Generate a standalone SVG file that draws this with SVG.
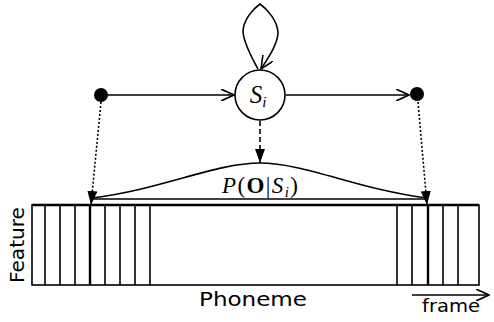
<svg xmlns="http://www.w3.org/2000/svg" width="494" height="322" viewBox="0 0 494 322">
<style>
.ln{stroke:#000;stroke-width:1.6;fill:none}
.tk{stroke:#000;stroke-width:2.4;fill:none}
.dot{stroke:#000;stroke-width:1.6;fill:none;stroke-dasharray:2 2}
.serif{font-family:"Liberation Serif","Times New Roman",serif}
.sans{font-family:"DejaVu Sans","Liberation Sans",sans-serif}
</style>
<defs>
<marker id="open" viewBox="0 0 14 12" refX="13" refY="6" markerWidth="14" markerHeight="12" markerUnits="userSpaceOnUse" orient="auto">
<path d="M0,0 L13,6 L0,12" fill="none" stroke="#000" stroke-width="1.6"/>
</marker>
<marker id="tri" viewBox="0 0 14 10" refX="14" refY="5" markerWidth="14" markerHeight="10" markerUnits="userSpaceOnUse" orient="auto">
<path d="M0,0 L14,5 L0,10 Z" fill="#000"/>
</marker>
</defs>

<g id="connectors">
<path class="ln" d="M258,69 C252,58 244,44 243,32 C243,20 253,9 260,4 C267,9 277,20 278,32 C278,44 268,58 261,69" marker-end="url(#open)"/>
<line class="ln" x1="107" y1="95" x2="234" y2="95" marker-end="url(#open)"/>
<line class="ln" x1="286" y1="95" x2="409" y2="95" marker-end="url(#open)"/>
<line class="dot" x1="101" y1="102" x2="91" y2="205" marker-end="url(#tri)"/>
<line class="dot" x1="418" y1="102" x2="427" y2="205" marker-end="url(#tri)"/>
<line class="ln" x1="260" y1="121" x2="260" y2="163" stroke-dasharray="5 3" marker-end="url(#tri)"/>
<line class="ln" x1="412" y1="295" x2="489" y2="295" marker-end="url(#open)"/>
</g>

<g id="start">
<circle cx="101" cy="95" r="7" fill="#000"/>
</g>
<g id="end">
<circle cx="417" cy="94" r="7" fill="#000"/>
</g>
<g id="state">
<circle cx="260" cy="95" r="25" fill="#fff" stroke="#000" stroke-width="1.6"/>
<text class="serif" x="258" y="103" font-size="25" font-style="italic" text-anchor="middle">S<tspan font-size="15" dy="4">i</tspan></text>
</g>

<g id="likelihood">
<path class="ln" d="M92,198 C160,190 215,163 260,163 C305,163 360,190 427,198"/>
<line class="ln" x1="92" y1="199" x2="427" y2="199"/>
<text class="serif" x="222" y="193" font-size="23" textLength="76" lengthAdjust="spacing"><tspan font-style="italic">P</tspan>(<tspan font-weight="bold">O</tspan>|<tspan font-style="italic">S</tspan><tspan font-style="italic" font-size="15" dy="4">i</tspan><tspan dy="-4">)</tspan></text>
</g>

<g id="features">
<rect x="32" y="205" width="447" height="80" fill="#fff" stroke="#000" stroke-width="1.6"/>
<line class="tk" x1="32" y1="205" x2="479" y2="205"/>
<path class="ln" d="M45,205V285M60,205V285M75,205V285M105,205V285M120,205V285M135,205V285M150,205V285M397,205V285M412,205V285M443,205V285M458,205V285"/>
<line class="tk" x1="90" y1="205" x2="90" y2="285"/>
<line class="tk" x1="428" y1="205" x2="428" y2="285"/>
<text class="sans" x="0" y="0" font-size="19" text-anchor="middle" textLength="76" lengthAdjust="spacingAndGlyphs" transform="translate(24,245) rotate(-90)">Feature</text>
<text class="sans" x="253" y="306" font-size="20" text-anchor="middle" textLength="108" lengthAdjust="spacingAndGlyphs">Phoneme</text>
<text class="sans" x="451" y="312" font-size="18" text-anchor="middle" textLength="58" lengthAdjust="spacingAndGlyphs">frame</text>
</g>
</svg>
